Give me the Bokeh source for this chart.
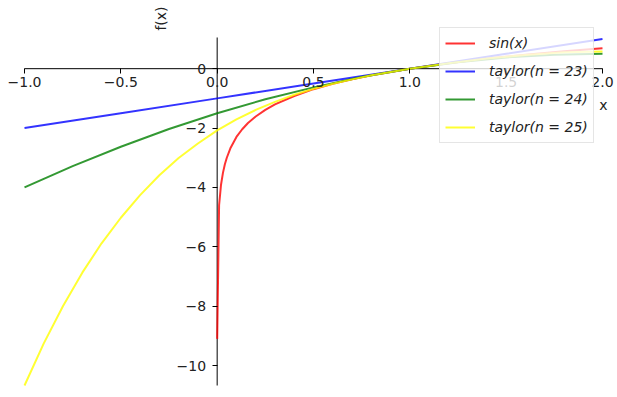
from bokeh.plotting import figure
from bokeh.models import Range1d, Legend, LegendItem, Label, FixedTicker
from bokeh.embed import file_html
from bokeh.resources import INLINE

# ---- data ----
red_x = [0.0001, 0.01, 0.02, 0.03, 0.04, 0.05, 0.07, 0.1, 0.13, 0.16, 0.2, 0.25, 0.3,
         0.4, 0.5, 0.6, 0.7, 0.8, 0.9, 1.0, 1.2, 1.4, 1.6, 1.8, 2.0]
red_y = [-9.1, -4.6, -3.91, -3.51, -3.22, -3.0, -2.66, -2.3, -2.04, -1.83, -1.61, -1.39, -1.2,
         -0.92, -0.69, -0.51, -0.36, -0.22, -0.11, 0.0, 0.18, 0.34, 0.47, 0.59, 0.69]

blue_x = [-1.0, -0.5, 0.0, 0.5, 1.0, 1.5, 2.0]
blue_y = [-2.0, -1.5, -1.0, -0.5, 0.0, 0.5, 1.0]

green_x = [-1.0, -0.75, -0.5, -0.25, 0.0, 0.25, 0.5, 0.75, 1.0, 1.25, 1.5, 1.75, 2.0]
green_y = [-4.0, -3.28, -2.63, -2.03, -1.5, -1.03, -0.63, -0.28, 0.0, 0.22, 0.38, 0.47, 0.5]

yellow_x = [-1.0, -0.9, -0.8, -0.7, -0.6, -0.5, -0.4, -0.3, -0.2, -0.1, 0.0, 0.1, 0.2, 0.3,
            0.4, 0.5, 0.6, 0.7, 0.8, 0.9, 1.0, 1.2, 1.4, 1.6, 1.8, 2.0]
yellow_y = [-10.67, -9.25, -7.99, -6.87, -5.88, -5.02, -4.26, -3.59, -3.01, -2.52, -2.08, -1.71,
            -1.39, -1.12, -0.88, -0.68, -0.51, -0.36, -0.22, -0.11, 0.0, 0.18, 0.34, 0.46, 0.55, 0.58]

labels = ["sin(x)", "taylor(n = 23)", "taylor(n = 24)", "taylor(n = 25)"]
x_ticks = [-1.0, -0.5, 0.0, 0.5, 1.0, 1.5, 2.0]
y_ticks = [-10, -8, -6, -4, -2, 0]

# axis (spine) limits
X_MIN, X_MAX = -1.0, 2.0
Y_MIN, Y_MAX = -10.67, 1.05

FONT = "DejaVu Sans"
TXT = "#222222"

# the frame covers the whole canvas so nothing is clipped
p = figure(width=617, height=397,
           x_range=Range1d(-1.1246, 2.0779), y_range=Range1d(-11.074, 2.296),
           output_backend="svg", toolbar_location=None,
           min_border_left=0, min_border_right=0, min_border_top=0, min_border_bottom=0)
p.outline_line_color = None
p.grid.visible = False

for ax in (p.xaxis[0], p.yaxis[0]):
    ax.fixed_location = 0
    ax.axis_line_color = None
    ax.major_tick_line_color = "black"
    ax.major_tick_out = 5
    ax.major_tick_in = 0
    ax.minor_tick_line_color = None
    ax.major_label_text_font = FONT
    ax.major_label_text_font_size = "14px"
    ax.major_label_text_color = TXT

p.xaxis[0].ticker = FixedTicker(ticks=x_ticks)
p.yaxis[0].ticker = FixedTicker(ticks=y_ticks)
p.xaxis[0].major_label_overrides = {t: ("%.1f" % t).replace("-", "\u2212") for t in x_ticks}
p.yaxis[0].major_label_overrides = {t: str(t).replace("-", "\u2212") for t in y_ticks}
p.xaxis[0].major_label_standoff = 3
p.yaxis[0].major_label_standoff = 6

# spines through the origin
p.segment(x0=[X_MIN, 0], y0=[0, Y_MIN], x1=[X_MAX, 0], y1=[0, Y_MAX],
          line_color="black", line_width=1)

r1 = p.line(red_x, red_y, line_color="red", line_alpha=0.8, line_width=2)
r2 = p.line(blue_x, blue_y, line_color="blue", line_alpha=0.8, line_width=2)
r3 = p.line(green_x, green_y, line_color="green", line_alpha=0.8, line_width=2)
r4 = p.line(yellow_x, yellow_y, line_color="yellow", line_alpha=0.8, line_width=2)

legend = Legend(items=[LegendItem(label=l, renderers=[r]) for l, r in zip(labels, [r1, r2, r3, r4])],
                location=(439, 254))
legend.label_text_font = FONT
legend.label_text_font_size = "14px"
legend.label_text_font_style = "italic"
legend.label_text_color = TXT
legend.glyph_width = 30
legend.glyph_height = 20
legend.label_height = 20
legend.label_standoff = 14
legend.spacing = 8
legend.padding = 5
legend.margin = 0
legend.border_line_color = "#cccccc"
legend.border_line_width = 1
legend.background_fill_alpha = 0.8
p.add_layout(legend, "center")

p.add_layout(Label(x=2.005, y=-1.24, text="x",
                   text_font=FONT, text_font_size="14px",
                   text_align="center", text_baseline="middle", text_color=TXT))
p.add_layout(Label(x=-0.294, y=1.69, text="f(x)",
                   text_font=FONT, text_font_size="14px",
                   angle=1.5708, text_align="center", text_baseline="middle", text_color=TXT))

open("out.html", "w").write(file_html(p, INLINE))
